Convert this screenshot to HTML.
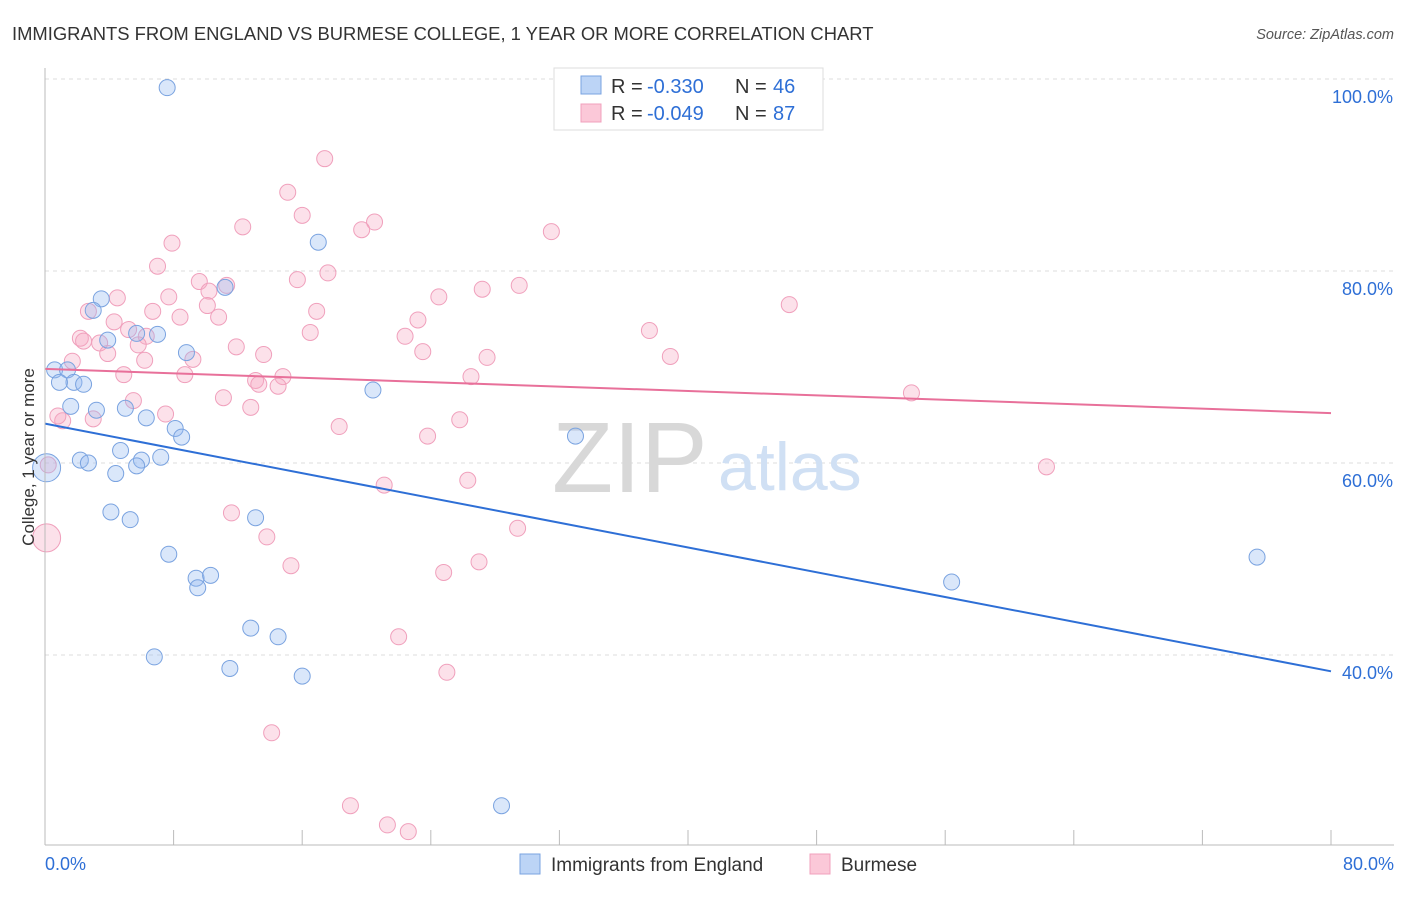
<!DOCTYPE html>
<html><head><meta charset="utf-8"><style>
body{margin:0;background:#fff;font-family:"Liberation Sans",sans-serif}
svg text{font-family:"Liberation Sans",sans-serif}
</style></head><body>
<svg id="chart" width="1406" height="892" xmlns="http://www.w3.org/2000/svg">
<text x="12" y="40" font-size="18.4" fill="#333">IMMIGRANTS FROM ENGLAND VS BURMESE COLLEGE, 1 YEAR OR MORE CORRELATION CHART</text>
<text x="1394" y="39" font-size="14.5" fill="#555" font-style="italic" text-anchor="end">Source: ZipAtlas.com</text>
<g id="grid"></g>
<g><text x="552" y="492" font-size="100" fill="#d8d8d8" font-family="Liberation Serif,serif">ZIP</text><text x="718" y="490" font-size="68" fill="#d0e0f4">atlas</text></g>
<g id="pts"></g>
<g id="lines"></g>
<g id="axes"></g>
<text transform="translate(34,457) rotate(-90)" font-size="17" fill="#333" text-anchor="middle">College, 1 year or more</text>
<g>
<rect x="554" y="68" width="269" height="62" fill="#fff" stroke="#ddd"/>
<rect x="581" y="76" width="20" height="18" fill="#bcd4f6" stroke="#7aa3e0"/>
<rect x="581" y="104" width="20" height="18" fill="#fbc8d8" stroke="#f0a0bc"/>
<text x="611" y="93" font-size="20" fill="#333">R =</text>
<text x="647" y="93" font-size="20" fill="#2e6fd6">-0.330</text>
<text x="735" y="93" font-size="20" fill="#333">N =</text>
<text x="773" y="93" font-size="20" fill="#2e6fd6">46</text>
<text x="611" y="120" font-size="20" fill="#333">R =</text>
<text x="647" y="120" font-size="20" fill="#2e6fd6">-0.049</text>
<text x="735" y="120" font-size="20" fill="#333">N =</text>
<text x="773" y="120" font-size="20" fill="#2e6fd6">87</text>
</g>
<g>
<rect x="520" y="854" width="20" height="20" fill="#bcd4f6" stroke="#7aa3e0"/>
<text x="551" y="871" font-size="19" fill="#333">Immigrants from England</text>
<rect x="810" y="854" width="20" height="20" fill="#fbc8d8" stroke="#f0a0bc"/>
<text x="841" y="871" font-size="19" fill="#333">Burmese</text>
</g>
</svg>
<script>
const blueX=[7.6,17.0,3.5,3.0,11.2,3.9,5.7,7.0,8.8,0.6,1.4,1.8,2.4,0.9,1.6,3.2,5.0,20.4,6.3,8.1,8.5,33.0,4.7,6.0,7.2,2.2,2.7,4.4,5.7,0.1,4.1,5.3,13.1,7.7,9.4,10.3,9.5,75.4,56.4,12.8,14.5,6.8,11.5,16.0,28.4];
const blueY=[99.1,83.0,77.1,75.9,78.3,72.8,73.5,73.4,71.5,69.7,69.7,68.4,68.2,68.4,65.9,65.5,65.7,67.6,64.7,63.6,62.7,62.8,61.3,60.3,60.6,60.3,60.0,58.9,59.7,59.5,54.9,54.1,54.3,50.5,48.0,48.3,47.0,50.2,47.6,42.8,41.9,39.8,38.6,37.8,24.3];
const blueBig=[29];
const pinkX=[32.2,17.4,15.1,16.0,12.3,20.5,19.7,7.9,31.5,7.0,17.6,15.7,9.6,11.3,29.5,27.2,4.5,7.7,10.2,24.5,46.3,6.7,2.7,16.9,10.1,8.4,10.8,23.2,4.3,5.2,16.5,37.6,22.4,2.2,2.4,3.4,6.3,5.8,11.9,3.9,13.6,23.5,27.5,38.9,9.2,1.7,6.2,4.9,8.7,13.1,14.8,26.5,13.3,14.5,53.9,5.5,11.1,12.8,7.5,3.0,25.8,1.1,0.8,18.3,23.8,62.3,0.2,21.1,26.3,29.4,11.6,13.8,0.1,15.3,24.8,27.0,22.0,25.0,14.1,19.0,21.3,22.6];
const pinkY=[97.5,91.7,88.2,85.8,84.6,85.1,84.3,82.9,84.1,80.5,79.8,79.1,78.9,78.5,78.5,78.1,77.2,77.3,77.9,77.3,76.5,75.8,75.8,75.8,76.4,75.2,75.2,74.9,74.7,73.9,73.6,73.8,73.2,73.0,72.7,72.5,73.2,72.3,72.1,71.4,71.3,71.6,71.0,71.1,70.8,70.6,70.7,69.2,69.2,68.6,69.0,69.0,68.2,68.0,67.3,66.5,66.8,65.8,65.1,64.6,64.5,64.4,64.9,63.8,62.8,59.6,59.8,57.7,58.2,53.2,54.8,52.3,52.2,49.3,48.6,49.7,41.9,38.2,31.9,24.3,22.3,21.6];
const pinkBig=[72];
const blueTrend=[64.1,38.3];
const pinkTrend=[69.8,65.2];
const yTicks=[100,80,60,40];
const xTickCount=10;

const NS="http://www.w3.org/2000/svg";
const sx=v=>45+v*1286/80;
const sy=v=>463-(v-60)*9.6;
function mk(tag,attrs,parent){const e=document.createElementNS(NS,tag);for(const k in attrs)e.setAttribute(k,attrs[k]);document.getElementById(parent).appendChild(e);return e;}
yTicks.forEach(t=>{
  const l=mk('line',{x1:45,x2:1394,y1:sy(t),y2:sy(t),stroke:'#ddd','stroke-dasharray':'4,4'},'grid');
  
  
  const tx=mk('text',{x:1393,y:sy(t)+24,'font-size':18,fill:'#2e6fd6','text-anchor':'end'},'axes');
  tx.textContent=t.toFixed(1)+'%';
  
  
});
const ax=mk('line',{x1:45,x2:1394,y1:845,y2:845,stroke:'#bbb'},'axes');


const ay=mk('line',{x1:45,x2:45,y1:68,y2:845,stroke:'#bbb'},'axes');


for(let i=0;i<=xTickCount;i++){
  const t=mk('line',{x1:sx(i*8),x2:sx(i*8),y1:830,y2:845,stroke:'#bbb'},'axes');
  
  
}
const xl=mk('text',{x:45,y:870,'font-size':18,fill:'#2e6fd6'},'axes');xl.textContent='0.0%';


const xr=mk('text',{x:1394,y:870,'font-size':18,fill:'#2e6fd6','text-anchor':'end'},'axes');xr.textContent='80.0%';


function pts(X,Y,big,fill,stroke,name){
  X.forEach((x,i)=>{
    const c=mk('circle',{cx:sx(x),cy:sy(Y[i]),r:big.includes(i)?14:8,fill:fill,stroke:stroke,'stroke-width':1},'pts');
    
    
  });
}
pts(pinkX,pinkY,pinkBig,'rgba(246,170,196,0.35)','#f0a0bc','burmese-point');
pts(blueX,blueY,blueBig,'rgba(150,185,240,0.35)','#7aa3e0','england-point');
const bl=mk('line',{x1:sx(0),y1:sy(blueTrend[0]),x2:sx(80),y2:sy(blueTrend[1]),stroke:'#2e6fd6','stroke-width':2},'lines');


const pl=mk('line',{x1:sx(0),y1:sy(pinkTrend[0]),x2:sx(80),y2:sy(pinkTrend[1]),stroke:'#e8709a','stroke-width':2},'lines');


</script>
</body></html>
